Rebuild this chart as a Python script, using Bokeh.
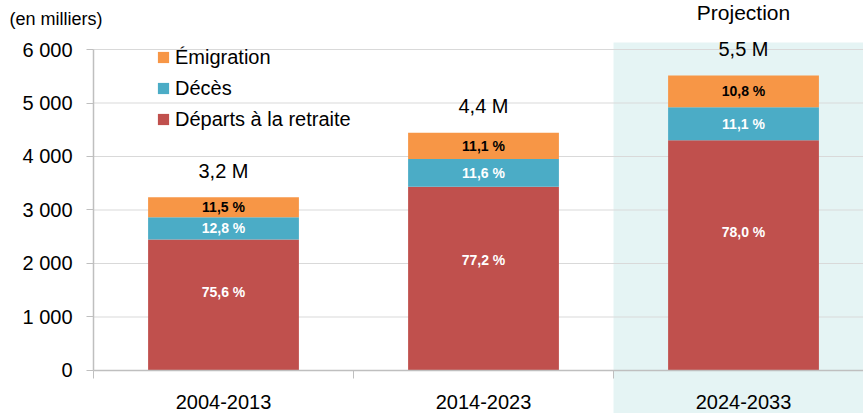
from bokeh.plotting import figure
from bokeh.models import (ColumnDataSource, FixedTicker, LinearAxis, Legend, LegendItem,
                          BoxAnnotation, Label, Range1d)
from bokeh.core.properties import value
from bokeh.embed import file_html
from bokeh.resources import INLINE

# ---- data ----
categories = ["2004-2013", "2014-2023", "2024-2033"]
retraite = [2450, 3435, 4306]      # Départs à la retraite (milliers)
deces = [415, 516, 613]            # Décès
emigration = [373, 494, 596]       # Émigration
pct_retraite = ["75,6 %", "77,2 %", "78,0 %"]
pct_deces = ["12,8 %", "11,6 %", "11,1 %"]
pct_emigration = ["11,5 %", "11,1 %", "10,8 %"]
totals_labels = ["3,2 M", "4,4 M", "5,5 M"]
series_names = ["Départs à la retraite", "Décès", "Émigration"]
colors = ["#C0504D", "#4BACC6", "#F79646"]
y_ticks = [0, 1000, 2000, 3000, 4000, 5000, 6000]
y_tick_labels = ["0", "1 000", "2 000", "3 000", "4 000", "5 000", "6 000"]
projection_index = 2

FONT = "'Liberation Sans', Arial, sans-serif"
TF = value("Liberation Sans")

xs = [i + 0.5 for i in range(len(categories))]
bounds_x = list(range(len(categories) + 1))
tot = [r + d + e for r, d, e in zip(retraite, deces, emigration)]
src = ColumnDataSource(dict(
    x=xs, retraite=retraite, deces=deces, emigration=emigration,
    y_r=[0.6 * r for r in retraite],
    y_d=[r + d / 2 for r, d in zip(retraite, deces)],
    y_e=[r + d + e / 2 for r, d, e in zip(retraite, deces, emigration)],
    y_t=[t + 500 for t in tot],
    pr=pct_retraite, pd=pct_deces, pe=pct_emigration, tl=totals_labels,
))

X0, X1 = -0.3577, 2.9615
Y0, Y1 = -804, 6916
p = figure(width=863, height=413, output_backend="svg", toolbar_location=None,
           x_range=Range1d(X0, X1), y_range=Range1d(Y0, Y1),
           min_border_left=0, min_border_right=0, min_border_top=0, min_border_bottom=0,
           x_axis_type=None, y_axis_type=None)
p.outline_line_color = None
p.grid.visible = False
p.background_fill_color = "white"

# projection shading
p.add_layout(BoxAnnotation(left=projection_index, top=6131, fill_color="#E5F4F4", fill_alpha=1,
                           line_color=None, level="image"))

# horizontal gridlines (from the y ticks)
grid_y = y_ticks[1:]
p.segment(x0=[0] * len(grid_y), x1=[X1] * len(grid_y), y0=grid_y, y1=grid_y,
          line_color="#D9D9D9", line_width=1.2)

# y axis (drawn at x = 0 inside the frame)
yax = LinearAxis(ticker=FixedTicker(ticks=y_ticks), fixed_location=0,
                 major_label_overrides={t: l for t, l in zip(y_ticks, y_tick_labels)})
yax.bounds = (0, 6000)
yax.axis_line_color = "#BFBFBF"
yax.axis_line_width = 1.5
yax.major_tick_line_color = "#BFBFBF"
yax.major_tick_out = 7
yax.major_tick_in = 0
yax.minor_tick_line_color = None
yax.major_label_standoff = 14
yax.major_label_text_font = FONT
yax.major_label_text_font_size = "20px"
yax.major_label_text_color = "black"
p.add_layout(yax, "left")

# x axis: labels at category centres, tick marks at category boundaries
xl = LinearAxis(ticker=FixedTicker(ticks=xs, minor_ticks=bounds_x[:-1]), fixed_location=0,
                major_label_overrides={x: c for x, c in zip(xs, categories)})
xl.bounds = (0, X1)
xl.axis_line_color = "#BFBFBF"
xl.axis_line_width = 1.5
xl.major_tick_line_color = None
xl.minor_tick_line_color = "#BFBFBF"
xl.minor_tick_out = 8
xl.minor_tick_in = 0
xl.major_label_standoff = 17
xl.major_label_text_font = FONT
xl.major_label_text_font_size = "20px"
xl.major_label_text_color = "black"
p.add_layout(xl, "below")

rs = p.vbar_stack(["retraite", "deces", "emigration"], x="x", width=0.58, color=colors,
                  line_color=None, source=src)

p.text(x="x", y="y_r", text="pr", source=src, text_align="center", text_baseline="middle",
       text_font=TF, text_font_style="bold", text_font_size="14px", text_color="white")
p.text(x="x", y="y_d", text="pd", source=src, text_align="center", text_baseline="middle",
       text_font=TF, text_font_style="bold", text_font_size="14px", text_color="white")
p.text(x="x", y="y_e", text="pe", source=src, text_align="center", text_baseline="middle",
       text_font=TF, text_font_style="bold", text_font_size="14px", text_color="black")
p.text(x="x", y="y_t", text="tl", source=src, text_align="center", text_baseline="middle",
       text_font=TF, text_font_size="20px", text_color="black")

p.add_layout(Label(x=xs[projection_index], y=6692, text="Projection", text_align="center",
                   text_baseline="middle", text_font=FONT, text_font_size="21px",
                   text_color="black"))
p.add_layout(Label(x=-0.323, y=6579, text="(en milliers)",
                   text_baseline="middle", text_font=FONT, text_font_size="18px",
                   text_color="black"))

legend = Legend(items=[LegendItem(label=series_names[i], renderers=[rs[i]]) for i in (2, 1, 0)],
                location=(156, 280), orientation="vertical")
legend.background_fill_alpha = 0
legend.border_line_color = None
legend.padding = 0
legend.margin = 0
legend.spacing = 3
legend.glyph_width = 14
legend.glyph_height = 14
legend.label_height = 28
legend.label_standoff = 5
legend.label_text_font = FONT
legend.label_text_font_size = "20px"
legend.label_text_color = "black"
p.add_layout(legend, "center")

open("out.html", "w").write(file_html(p, INLINE))
